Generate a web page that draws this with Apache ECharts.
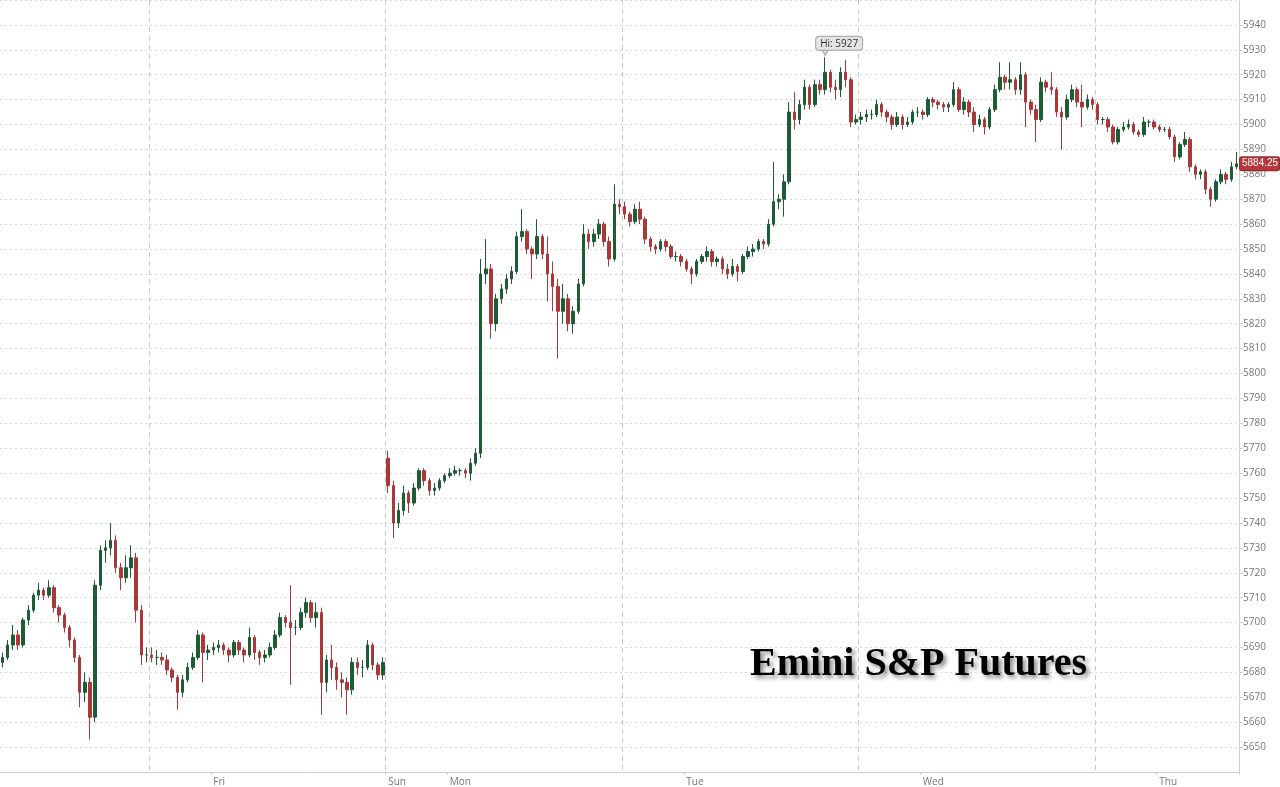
<!DOCTYPE html>
<html>
<head>
<meta charset="utf-8">
<script src="https://cdn.jsdelivr.net/npm/echarts@6/dist/echarts.min.js"></script>
<style>
html,body{margin:0;padding:0;background:#fff;}
#chart{width:1280px;height:787px;}
</style>
</head>
<body>
<div id="chart"></div>
<script>
// 30-minute candles, each tuple = [open, close, low, high]
const thuAM = [
[5684,5686,5682,5688],[5686,5691,5685,5693],[5691,5695,5689,5699],[5695,5691,5689,5697],
[5691,5701,5690,5702],[5701,5705,5699,5707],[5705,5711,5704,5712],[5711,5713,5709,5716],
[5713,5711,5709,5714],[5711,5714,5710,5717],[5714,5706,5704,5715],[5706,5703,5700,5707],
[5703,5698,5696,5704],[5698,5693,5690,5699],[5693,5686,5684,5694],[5686,5672,5666,5687],
[5672,5676,5668,5680],[5676,5662,5653,5678],[5662,5715,5660,5717],[5715,5729,5713,5731],
[5729,5730,5724,5733],[5730,5733,5727,5740],[5733,5722,5720,5735],[5722,5718,5713,5724],
[5718,5722,5716,5727],[5722,5726,5718,5731],[5726,5705,5700,5728],[5705,5687,5683,5707],
[5687,5687,5684,5690]
];
const friSession = [
[5687,5686,5684,5690],[5686,5686,5683,5689],[5686,5685,5683,5688],[5685,5681,5679,5687],
[5681,5678,5676,5682],[5678,5672,5665,5679],[5672,5677,5670,5679],[5677,5682,5676,5684],
[5682,5686,5681,5688],[5686,5695,5685,5697],[5695,5688,5676,5696],[5688,5689,5685,5691],
[5689,5690,5687,5692],[5690,5691,5688,5693],[5691,5689,5687,5692],[5689,5687,5684,5690],
[5687,5692,5686,5693],[5692,5689,5687,5693],[5689,5687,5684,5690],[5687,5694,5686,5698],
[5694,5688,5685,5695],[5688,5686,5683,5689],[5686,5687,5684,5689],[5687,5690,5686,5692],
[5690,5695,5689,5697],[5695,5702,5694,5704],[5702,5700,5698,5703],[5700,5698,5675,5715],
[5698,5698,5695,5701],[5698,5704,5697,5706],[5704,5708,5702,5710],[5708,5702,5700,5709],
[5702,5704,5698,5708],[5704,5676,5663,5706],[5676,5685,5672,5687],[5685,5682,5677,5691],
[5682,5677,5673,5684],[5677,5676,5670,5680],[5676,5673,5663,5678],[5673,5684,5671,5686],
[5684,5682,5679,5686],[5682,5682,5678,5685],[5682,5691,5681,5693],[5691,5683,5681,5692],
[5683,5679,5677,5684],[5679,5684,5677,5686]
];
const monSession = [
[5766,5755,5752,5769],[5755,5740,5734,5757],[5740,5745,5738,5748],[5745,5752,5743,5755],
[5752,5748,5744,5753],[5748,5754,5747,5756],[5754,5761,5753,5762],[5761,5757,5755,5762],
[5757,5753,5751,5758],[5753,5754,5751,5756],[5754,5757,5753,5758],[5757,5759,5756,5760],
[5759,5760,5758,5762],[5760,5761,5759,5763],[5761,5761,5759,5762],[5761,5760,5758,5762],
[5760,5764,5757,5766],[5764,5768,5763,5770],[5768,5840,5766,5846],[5840,5842,5836,5854],
[5842,5820,5814,5844],[5820,5830,5817,5832],[5830,5834,5828,5836],[5834,5838,5832,5840],
[5838,5841,5836,5843],[5841,5855,5840,5857],[5855,5857,5853,5866],[5857,5850,5848,5858],
[5850,5848,5838,5851],[5848,5855,5846,5862],[5855,5848,5846,5856],[5848,5840,5829,5855],
[5840,5835,5825,5845],[5835,5825,5806,5838],[5825,5830,5820,5836],[5830,5820,5817,5832],
[5820,5825,5816,5827],[5825,5836,5824,5838],[5836,5856,5835,5860],[5856,5853,5850,5858],
[5853,5856,5851,5858],[5856,5860,5854,5862],[5860,5853,5851,5861],[5853,5846,5843,5855],
[5846,5868,5845,5876],[5868,5867,5864,5870]
];
const tueSession = [
[5867,5864,5862,5869],[5864,5861,5859,5865],[5861,5866,5860,5868],[5866,5862,5860,5869],
[5862,5854,5852,5863],[5854,5851,5849,5855],[5851,5850,5848,5852],[5850,5853,5849,5854],
[5853,5851,5849,5854],[5851,5847,5846,5852],[5847,5847,5845,5849],[5847,5845,5843,5848],
[5845,5842,5841,5846],[5842,5840,5836,5843],[5840,5845,5839,5846],[5845,5847,5844,5848],
[5847,5849,5845,5851],[5849,5845,5843,5850],[5845,5846,5843,5847],[5846,5842,5840,5847],
[5842,5840,5838,5844],[5840,5843,5839,5846],[5843,5841,5837,5844],[5841,5847,5840,5848],
[5847,5849,5846,5851],[5849,5850,5847,5852],[5850,5853,5849,5854],[5853,5852,5850,5854],
[5852,5860,5851,5862],[5860,5869,5859,5885],[5869,5870,5866,5872],[5870,5877,5863,5880],
[5877,5905,5876,5909],[5905,5902,5898,5913],[5902,5908,5900,5910],[5908,5915,5906,5918],
[5915,5908,5906,5916],[5908,5916,5907,5918],[5916,5914,5912,5918],[5914,5921,5912,5927],
[5921,5915,5913,5922],[5915,5914,5910,5918],[5914,5921,5911,5923],[5921,5918,5915,5926],
[5918,5901,5899,5919],[5901,5902,5900,5904]
];
const wedSession = [
[5902,5903,5900,5905],[5903,5904,5901,5906],[5904,5904,5902,5906],[5904,5908,5903,5910],
[5908,5905,5903,5909],[5905,5903,5901,5906],[5903,5900,5898,5904],[5900,5903,5899,5905],
[5903,5900,5898,5904],[5900,5901,5899,5903],[5901,5905,5900,5906],[5905,5905,5903,5907],
[5905,5904,5902,5906],[5904,5910,5903,5911],[5910,5909,5907,5911],[5909,5908,5906,5910],
[5908,5907,5905,5909],[5907,5908,5905,5909],[5908,5914,5907,5917],[5914,5906,5905,5915],
[5906,5909,5904,5911],[5909,5905,5903,5910],[5905,5900,5897,5907],[5900,5902,5899,5904],
[5902,5899,5896,5903],[5899,5906,5898,5907],[5906,5914,5905,5916],[5914,5919,5913,5925],
[5919,5917,5914,5920],[5917,5918,5914,5925],[5918,5914,5912,5919],[5914,5920,5912,5925],
[5920,5909,5899,5921],[5909,5906,5904,5910],[5906,5902,5893,5908],[5902,5917,5901,5919],
[5917,5915,5913,5918],[5915,5914,5912,5921],[5914,5905,5903,5915],[5905,5903,5890,5907],
[5903,5910,5902,5912],[5910,5914,5909,5916],[5914,5909,5907,5915],[5909,5907,5899,5916],
[5907,5910,5906,5912],[5910,5908,5906,5911]
];
const thuSession = [
[5908,5902,5900,5909],[5902,5902,5900,5903],[5902,5899,5897,5903],[5899,5893,5892,5900],
[5893,5898,5892,5899],[5898,5899,5897,5901],[5899,5900,5898,5902],[5900,5897,5896,5901],
[5897,5896,5895,5898],[5896,5901,5895,5903],[5901,5901,5899,5902],[5901,5899,5898,5902],
[5899,5898,5897,5900],[5898,5898,5897,5899],[5898,5895,5894,5899],[5895,5887,5885,5896],
[5887,5892,5886,5893],[5892,5894,5891,5897],[5894,5883,5881,5895],[5883,5880,5878,5884],
[5880,5881,5878,5882],[5881,5874,5872,5882],[5874,5870,5867,5875],[5870,5877,5869,5878],
[5877,5880,5876,5882],[5880,5878,5876,5881],[5878,5883,5877,5885],[5883,5884.25,5882,5889]
];
const sessions = [
  {day:'Thu', start:'03:30', data: thuAM},
  {day:'Thu', start:'18:00', data: friSession},
  {day:'Sun', start:'18:00', data: monSession},
  {day:'Mon', start:'18:00', data: tueSession},
  {day:'Tue', start:'18:00', data: wedSession},
  {day:'Wed', start:'18:00', data: thuSession}
];
const dayTicks = ['Fri','Sun','Mon','Tue','Wed','Thu'];
const hiLabel = 'Hi: 5927';
const lastPrice = 5884.25;

// build category labels (trading time, 30 min steps) and data
const nextDay = {Sun:'Mon', Mon:'Tue', Tue:'Wed', Wed:'Thu', Thu:'Fri'};
const categories = [];
const ohlc = [];
const sessionStartIdx = [];
const tickIdx = [];
sessions.forEach((s, si) => {
  if (si > 0) sessionStartIdx.push(categories.length);
  let [h, m] = s.start.split(':').map(Number);
  let day = s.day;
  s.data.forEach((d, k) => {
    const label = day + ' ' + String(h).padStart(2,'0') + ':' + String(m).padStart(2,'0');
    if (h === 0 && m === 0) tickIdx.push(categories.length);
    if (si === 2 && k === 0) tickIdx.push(categories.length);
    categories.push(label);
    ohlc.push(d);
    m += 30; if (m >= 60) { m = 0; h += 1; }
    if (h >= 24) { h = 0; day = nextDay[day]; }
  });
});
const tickNames = {};
tickIdx.forEach((ix, n) => { tickNames[ix] = dayTicks[n]; });
let hiIdx = 0;
ohlc.forEach((d, i) => { if (d[3] > ohlc[hiIdx][3]) hiIdx = i; });

const chart = echarts.init(document.getElementById('chart'));
chart.setOption({
  animation: false,
  backgroundColor: '#ffffff',
  title: {
    text: 'Emini S&P Futures',
    left: 745, top: 640,
    textStyle: {
      fontFamily: 'Liberation Serif, Times New Roman, serif',
      fontWeight: 'bold', fontSize: 40, color: '#000',
      textShadowColor: 'rgba(0,0,0,0.45)', textShadowBlur: 4,
      textShadowOffsetX: 3, textShadowOffsetY: 3
    }
  },
  grid: { left: 0, right: 41, top: 0, bottom: 11 },
  xAxis: {
    type: 'category',
    data: categories,
    boundaryGap: true,
    axisLine: { show: true, lineStyle: { color: '#cfcfcf' } },
    axisTick: { show: true, length: 3, interval: (i) => tickIdx.includes(i), lineStyle: { color: '#cfcfcf' } },
    axisLabel: {
      interval: (i) => tickIdx.includes(i),
      formatter: (v, i) => tickNames[i] || '',
      align: 'left', color: '#777', fontSize: 10, margin: 5,
      fontFamily: 'Open Sans, Noto Sans, sans-serif'
    },
    splitLine: {
      show: true,
      interval: (i) => sessionStartIdx.includes(i),
      lineStyle: { color: '#c8c8c8', type: [5, 4], width: 1 }
    }
  },
  yAxis: {
    type: 'value',
    position: 'right',
    min: 5640, max: 5950, interval: 10,
    axisLine: { show: true, lineStyle: { color: '#cfcfcf' } },
    axisTick: { show: true, length: 4, lineStyle: { color: '#cfcfcf' } },
    axisLabel: {
      showMinLabel: false, showMaxLabel: false,
      formatter: (v) => String(v),
      color: '#777', fontSize: 10, margin: 4,
      fontFamily: 'Open Sans, Noto Sans, sans-serif'
    },
    splitLine: { show: true, lineStyle: { color: '#d9d9d9', type: [2, 3], width: 1 } }
  },
  series: [{
    type: 'candlestick',
    data: ohlc,
    barWidth: 3,
    itemStyle: {
      color: '#1d5c34', color0: '#a8383a',
      borderColor: '#1d5c34', borderColor0: '#a8383a', borderWidth: 1
    },
    markPoint: {
      silent: true,
      data: [{
        coord: [categories[hiIdx], ohlc[hiIdx][3]],
        symbol: 'path://M0,0L10,0L5,8Z',
        symbolSize: [7, 6],
        symbolOffset: [0, -5],
        itemStyle: { color: '#e4e4e4', borderColor: '#a0a0a0', borderWidth: 1 },
        label: {
          show: true, position: 'top', distance: 0, offset: [14, 1],
          formatter: hiLabel,
          backgroundColor: '#e4e4e4', borderColor: '#a0a0a0', borderWidth: 1,
          borderRadius: 3, padding: [2, 4, 1, 4],
          color: '#333', fontSize: 10,
          fontFamily: 'Open Sans, Noto Sans, sans-serif'
        }
      }]
    },
    markLine: {
      silent: true,
      symbol: ['none', 'none'],
      lineStyle: { color: 'rgba(0,0,0,0)', width: 0, type: 'solid' },
      data: [{ yAxis: lastPrice }],
      label: {
        show: true, position: 'end', distance: 1,
        formatter: lastPrice.toFixed(2),
        backgroundColor: '#b5373a', borderColor: '#8e2a2c', borderWidth: 1,
        borderRadius: 2, padding: [2, 1, 1, 2],
        color: '#fff', fontSize: 10,
        fontFamily: 'Liberation Sans, Arial, sans-serif'
      }
    }
  }]
});
</script>
</body>
</html>
